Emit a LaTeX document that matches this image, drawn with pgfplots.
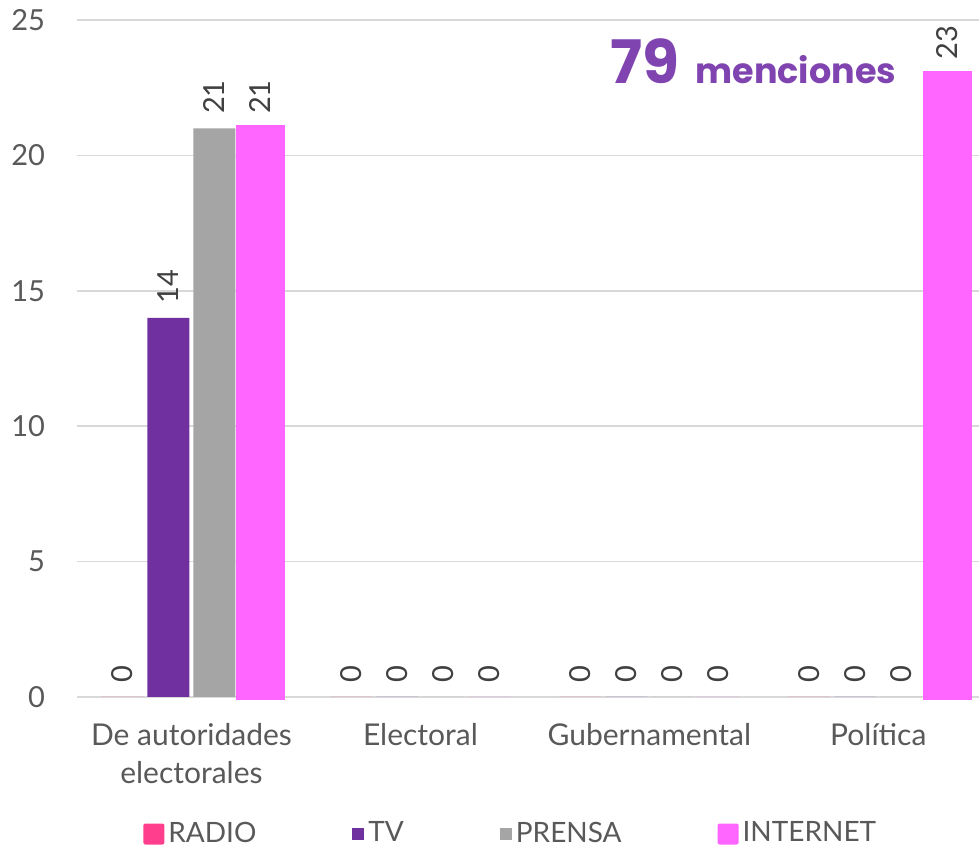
\documentclass[border=0pt]{standalone}
\usepackage{pgfplots}
\pgfplotsset{compat=1.18}
\usepackage{fontspec}
\setmainfont{Lato}
\newfontfamily\titlefont{Poppins}
\definecolor{radio}{HTML}{FF3F8E}
\definecolor{tv}{HTML}{7030A0}
\definecolor{prensa}{HTML}{A5A5A5}
\definecolor{internet}{HTML}{FF66FF}
\definecolor{gridc}{HTML}{D9D9D9}
\definecolor{txt}{HTML}{595959}
\definecolor{lbl}{HTML}{404040}
\definecolor{ttl}{HTML}{8044B0}
\begin{document}
\fontsize{14pt}{17pt}\selectfont
\begin{tikzpicture}
\begin{axis}[
  name=ax,
  at={(0,0)}, anchor=south west,
  scale only axis,
  width=451pt, height=338.5pt,
  ybar, bar width=21pt,
  xmin=-0.5, xmax=3.44,
  ymin=0, ymax=25,
  ytick={0,5,10,15,20,25},
  xtick={0,1,2,3},
  xticklabels={{De autoridades\\electorales},{Electoral},{Gubernamental},{Política}},
  extra x ticks={-0.5,0.5,1.5,2.5,3.5},
  extra x tick labels={},
  extra x tick style={major tick length=5pt, tick style={draw=gridc, line width=0.8pt}, grid=none, tick align=outside},
  major x tick style={draw=none},
  ytick style={draw=none},
  axis x line=bottom, axis y line=left,
  x axis line style={draw=gridc, line width=0.8pt, -},
  y axis line style={draw=none},
  ymajorgrids, grid style={draw=gridc, line width=0.8pt},
  /pgf/number format/assume math mode=true,
  tick label style={text=txt},
  yticklabel style={xshift=-9pt, font=\fontsize{14.5pt}{19pt}\selectfont},
  xticklabel style={align=center, yshift=-6pt, font=\fontsize{15pt}{19pt}\selectfont},
  nodes near coords,
  every node near coord/.append style={rotate=90, anchor=west, text=lbl, inner xsep=7pt, font=\fontsize{14.5pt}{17pt}\selectfont},
  legend columns=4,
  legend style={at={(0.482,-0.2024)}, anchor=center, draw=none, fill=none,
    font=\fontsize{14pt}{17pt}\selectfont, text=txt,
    /tikz/every even column/.append style={column sep=46pt},
    /tikz/every odd column/.append style={column sep=0pt}},
  clip=false,
]
\addplot[forget plot, bar shift=34.5pt, fill=internet, draw=internet, line width=3.5pt, nodes near coords={}] coordinates {(0,21) (3,23)};
\addplot[bar shift=-34.5pt, fill=radio, draw=none, legend image code/.code={\fill[radio,rounded corners=1pt] (0pt,-5.25pt) rectangle (10.5pt,5.25pt);}] coordinates {(0,0) (1,0) (2,0) (3,0)};
\addlegendentry{RADIO}
\addplot[bar shift=-11.5pt, fill=tv, draw=none, legend image code/.code={\fill[tv] (4.5pt,-3pt) rectangle (10.5pt,3pt);}] coordinates {(0,14) (1,0) (2,0) (3,0)};
\addlegendentry{TV}
\addplot[bar shift=11.5pt, fill=prensa, draw=none, legend image code/.code={\fill[prensa] (4.5pt,-3pt) rectangle (10.5pt,3pt);}] coordinates {(0,21) (1,0) (2,0) (3,0)};
\addlegendentry{PRENSA}
\addplot[bar shift=34.5pt, fill=internet, draw=none, legend image code/.code={\fill[internet,rounded corners=1pt] (0pt,-5.25pt) rectangle (10.5pt,5.25pt);}] coordinates {(0,21) (1,0) (2,0) (3,23)};
\addlegendentry{INTERNET}
\node[anchor=base east, text=ttl, inner sep=0pt] at (axis cs:3.08,22.67) {\titlefont\bfseries\fontsize{30pt}{34pt}\selectfont 79\hspace{8pt}\fontsize{17.5pt}{21pt}\selectfont menciones};
\end{axis}
\pgfresetboundingbox
\useasboundingbox (-38.5pt,-76pt) rectangle (451pt,348.5pt);
\end{tikzpicture}
\end{document}
